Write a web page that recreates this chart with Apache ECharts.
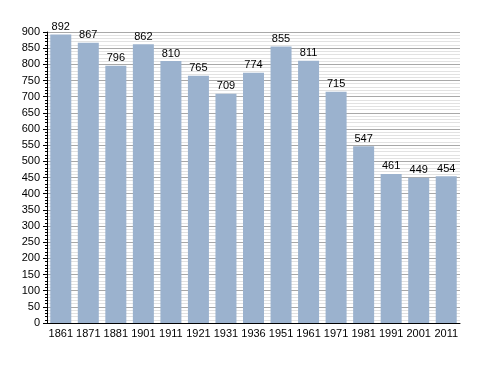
<!DOCTYPE html>
<html>
<head>
<meta charset="utf-8">
<script src="https://cdn.jsdelivr.net/npm/echarts@6/dist/echarts.min.js"></script>
<style>html,body{margin:0;padding:0;background:#fff;}#c{width:488px;height:373px;}</style>
</head>
<body>
<div id="c"></div>
<script>
const years = ['1861','1871','1881','1901','1911','1921','1931','1936','1951','1961','1971','1981','1991','2001','2011'];
const population = [892,867,796,862,810,765,709,774,855,811,715,547,461,449,454];
const yTicks = {min:0, max:900, interval:50};

const chart = echarts.init(document.getElementById('c'), null, {renderer:'canvas'});
const font = '"Liberation Sans", Arial, sans-serif';
chart.setOption({
  animation:false,
  backgroundColor:'#fff',
  grid:{left:47, right:28, top:32, bottom:50, containLabel:false},
  xAxis:{
    type:'category', data:years,
    axisLine:{show:true, lineStyle:{color:'#000', width:1}},
    axisTick:{show:false},
    axisLabel:{color:'#000', fontSize:11, fontFamily:font, margin:5, interval:0},
    splitLine:{show:false}
  },
  yAxis:{
    type:'value', min:yTicks.min, max:yTicks.max, interval:yTicks.interval,
    axisLine:{show:true, lineStyle:{color:'#000', width:1}},
    axisTick:{show:true, length:4, lineStyle:{color:'#000'}},
    minorTick:{show:true, splitNumber:5, length:2, lineStyle:{color:'#000'}},
    axisLabel:{color:'#000', fontSize:11, fontFamily:font, margin:7},
    splitLine:{show:true, lineStyle:{color:'#a8a8a8', width:1}},
    minorSplitLine:{show:true, lineStyle:{color:'#e2e2e2', width:1}}
  },
  series:[{
    type:'bar', data:population, barWidth:21,
    itemStyle:{color:'#9bb2ce'},
    label:{show:true, position:'top', distance:2, color:'#000', fontSize:11, fontFamily:font}
  }]
});
</script>
</body>
</html>
